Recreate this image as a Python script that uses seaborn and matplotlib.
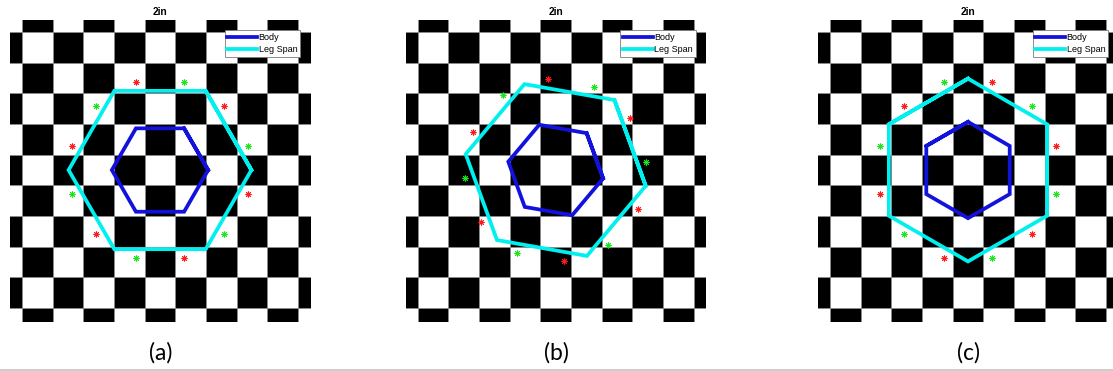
import numpy as np
import pandas as pd
import matplotlib
matplotlib.use("Agg")
import matplotlib.pyplot as plt
from matplotlib.colors import ListedColormap
from matplotlib.lines import Line2D
import seaborn as sns

# ---- data -------------------------------------------------------------
PANEL_LABELS = ["(a)", "(b)", "(c)"]
PANEL_TITLE = "2in"
LEGEND_LABELS = ["Body", "Leg Span"]

# robot heading in each panel (degrees, counter-clockwise)
HEADING_DEG = [0.0, -10.0, 90.0]

# radii in board squares
BODY_RADIUS = 1.57
LEG_SPAN_RADIUS = 2.98
FOOT_RADIUS = 2.97

# foot target directions relative to the heading (degrees)
GREEN_FOOT_DEG = [15, 75, 135, 195, 255, 315]
RED_FOOT_DEG = [45, 105, 165, 225, 285, 345]

BOARD_CELLS = 11
BOARD_CENTER = 5.5

# ---- style ------------------------------------------------------------
BODY_COLOR = "#1212dc"
LEG_COLOR = "#00f0f0"
RED = "#ff1a1a"
GREEN = "#19e619"

W, H = 1113, 371
fig = plt.figure(figsize=(W / 100, H / 100), dpi=100)
plt.rcParams["font.family"] = ["Liberation Sans", "DejaVu Sans"]

ax_left_px = [10.0, 405.7, 818.0]
ax_w_px, ax_top_px, ax_h_px = 300.7, 19.5, 302.5

board = pd.DataFrame(
    [[(r + c) % 2 for c in range(BOARD_CELLS)] for r in range(BOARD_CELLS)]
)


def polygon(radius, heading, n=6):
    ang = np.deg2rad(heading + np.arange(n) * 360.0 / n)
    x = BOARD_CENTER + radius * np.cos(ang)
    y = BOARD_CENTER - radius * np.sin(ang)
    # close the outline and overlap one edge so every corner is joined
    x = np.concatenate([x, x[:2]])
    y = np.concatenate([y, y[:2]])
    return x, y


def ring(radius, heading, angles):
    ang = np.deg2rad(heading + np.asarray(angles, dtype=float))
    return BOARD_CENTER + radius * np.cos(ang), BOARD_CENTER - radius * np.sin(ang)


foot_marker = (8, 2, 0)

for i, (label, heading) in enumerate(zip(PANEL_LABELS, HEADING_DEG)):
    left = ax_left_px[i]
    ax = fig.add_axes([left / W, 1 - (ax_top_px + ax_h_px) / H,
                       ax_w_px / W, ax_h_px / H])
    sns.heatmap(board, cmap=ListedColormap(["white", "black"]), vmin=0, vmax=1,
                cbar=False, linewidths=0.6, linecolor="#8a8a8a",
                xticklabels=False, yticklabels=False, ax=ax)

    bx, by = polygon(BODY_RADIUS, heading)
    lx, ly = polygon(LEG_SPAN_RADIUS, heading)
    sns.lineplot(x=bx, y=by, sort=False, estimator=None, color=BODY_COLOR,
                 linewidth=2.7, solid_joinstyle="miter", label=LEGEND_LABELS[0], ax=ax)
    sns.lineplot(x=lx, y=ly, sort=False, estimator=None, color=LEG_COLOR,
                 linewidth=2.7, solid_joinstyle="miter", label=LEGEND_LABELS[1], ax=ax)

    gx, gy = ring(FOOT_RADIUS, heading, GREEN_FOOT_DEG)
    rx, ry = ring(FOOT_RADIUS, heading, RED_FOOT_DEG)
    sns.scatterplot(x=gx, y=gy, marker=foot_marker, s=14, color=GREEN,
                    linewidth=0.7, ax=ax, zorder=5)
    sns.scatterplot(x=rx, y=ry, marker=foot_marker, s=14, color=RED,
                    linewidth=0.7, ax=ax, zorder=5)

    ax.set_xlim(0.609, 0.609 + ax_w_px / 30.67)
    ax.set_ylim(0.592 + ax_h_px / 30.67, 0.592)
    ax.set_xlabel("")
    ax.set_ylabel("")
    for sp in ax.spines.values():
        sp.set_visible(False)

    leg = ax.legend(loc="upper right", fontsize=6.5, handlelength=3.3,
                    handletextpad=0.15, borderpad=0.3, labelspacing=0.35,
                    borderaxespad=1.2, fancybox=False, framealpha=1)
    leg.get_frame().set_edgecolor("#7a7a7a")
    leg.get_frame().set_linewidth(0.6)

    cx = (left + ax_w_px / 2) / W
    fig.text(cx, 1 - 15.0 / H, PANEL_TITLE, ha="center", va="baseline",
             fontsize=7.2, fontweight="bold")
    fig.text(cx, 1 - 353.0 / H, label, ha="center", va="center",
             fontsize=16.5, family=["Lato", "DejaVu Sans"])

fig.add_artist(Line2D([0, 1], [1 - 369.5 / H] * 2, transform=fig.transFigure,
                      color="#c4c4c4", linewidth=1.2))

fig.savefig("out.png", dpi=100)
